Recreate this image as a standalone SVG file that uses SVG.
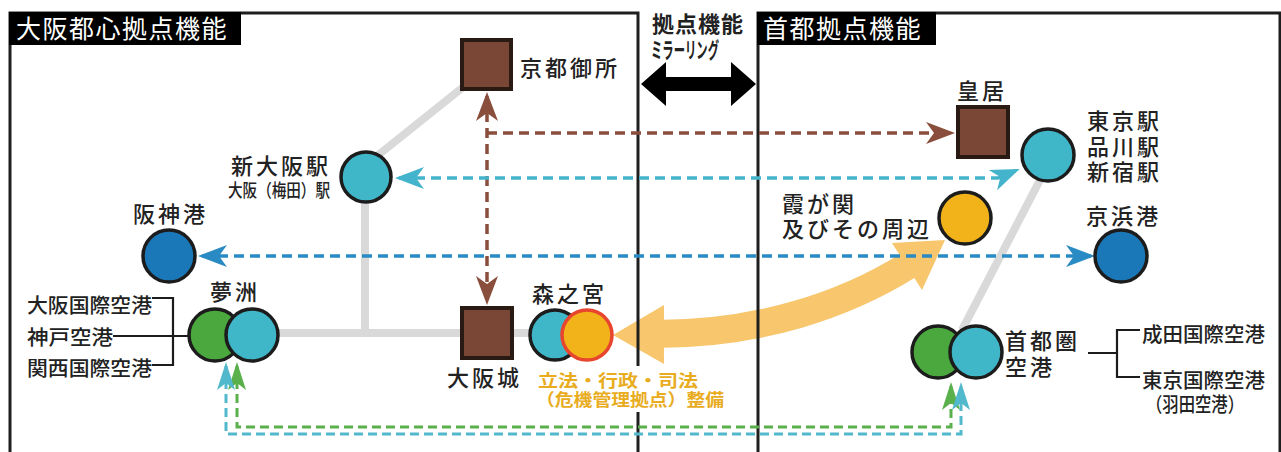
<svg xmlns="http://www.w3.org/2000/svg" width="1281" height="452" viewBox="0 0 1281 452">
<style>
text{font-family:"Noto Sans CJK JP","Noto Sans",sans-serif;fill:#222;}
.lbl{font-size:22px;font-weight:500;letter-spacing:3px;}
.sm{font-size:20px;font-weight:500;}
.ttl{font-size:25px;fill:#fff;letter-spacing:1.5px;}
.org{font-size:17px;font-weight:700;fill:#e8ac1e;}
.node{stroke:#1c1c1c;stroke-width:3.5;}
.sq{fill:#7a4636;stroke:#2a1a14;stroke-width:4;}
.cy{fill:#40b6c9;}
.gr{fill:#4aa83e;}
.bl{fill:#1a78b8;}
.ye{fill:#f2b21a;}
.gray{stroke:#d9d9d9;stroke-width:8;fill:none;}
.border{stroke:#1e1e1e;stroke-width:3;fill:none;}
.dash{fill:none;stroke-width:3.5;stroke-dasharray:10 6;}
.br{stroke:#8a4e3c;}
.cyd{stroke:#44b4cc;}
.bld{stroke:#2a8ac4;}
.gd{stroke:#5ab04a;stroke-width:3;stroke-dasharray:9 5;}
.cd{stroke:#52b8cc;stroke-width:3;stroke-dasharray:9 5;}
.brk{stroke:#1c1c1c;stroke-width:2.2;fill:none;}
</style>
<defs>
<marker id="mBr" markerUnits="userSpaceOnUse" viewBox="-30 -12 36 24" markerWidth="36" markerHeight="24" refX="0" refY="0" orient="auto-start-reverse"><path d="M4,0 L-25,-11 L-17,0 L-25,11Z" fill="#8a4e3c"/></marker>
<marker id="mCy" markerUnits="userSpaceOnUse" viewBox="-30 -12 36 24" markerWidth="36" markerHeight="24" refX="0" refY="0" orient="auto-start-reverse"><path d="M4,0 L-25,-11 L-17,0 L-25,11Z" fill="#44b4cc"/></marker>
<marker id="mBl" markerUnits="userSpaceOnUse" viewBox="-30 -12 36 24" markerWidth="36" markerHeight="24" refX="0" refY="0" orient="auto-start-reverse"><path d="M4,0 L-25,-11 L-17,0 L-25,11Z" fill="#2a8ac4"/></marker>
<marker id="mGs" markerUnits="userSpaceOnUse" viewBox="-30 -12 36 24" markerWidth="36" markerHeight="24" refX="0" refY="0" orient="auto-start-reverse"><path d="M4,0 L-24,-9 L-17,0 L-24,9Z" fill="#5ab04a"/></marker>
<marker id="mCs" markerUnits="userSpaceOnUse" viewBox="-30 -12 36 24" markerWidth="36" markerHeight="24" refX="0" refY="0" orient="auto-start-reverse"><path d="M4,0 L-24,-9 L-17,0 L-24,9Z" fill="#52b8cc"/></marker>
</defs>
<rect width="1281" height="452" fill="#fff"/>

<g id="network-lines">
<path class="gray" d="M462 88 L372 160"/>
<path class="gray" d="M365 195 V333"/>
<path class="gray" d="M270 333 H535"/>
<path class="gray" d="M1040 180 L962 330"/>
</g>

<g id="mirror-arrow-big">
<path d="M655 334 C760 334 845 305 909 265" fill="none" stroke="#f7c66d" stroke-width="28"/>
<polygon points="613,335 664,305 664,364" fill="#f7c66d"/>
<polygon points="945,240 922,290 892,243" fill="#f7c66d"/>
</g>

<g id="panels">
<path class="border" d="M10 452 V13 H638 V452"/>
<path class="border" d="M758 452 V13 H1280 V452"/>
<rect x="9" y="12" width="232" height="33" fill="#000"/>
<text class="ttl" x="16" y="38">大阪都心拠点機能</text>
<rect x="757" y="12" width="179" height="33" fill="#000"/>
<text class="ttl" x="763" y="38">首都拠点機能</text>
</g>

<g id="mirroring">
<text x="652" y="32" style="font-size:22px;font-weight:700;letter-spacing:1px;">拠点機能</text>
<text x="651" y="58" textLength="68" lengthAdjust="spacingAndGlyphs" style="font-size:22px;font-weight:700;">ミラーリング</text>
<polygon points="641,84 666,62 666,77 731,77 731,62 756,84 731,106 731,91 666,91 666,106" fill="#000"/>
</g>

<rect x="535" y="366" width="192" height="46" fill="#fff"/>

<g id="connectors">
<path class="dash br" d="M487 96 V301" marker-start="url(#mBr)" marker-end="url(#mBr)"/>
<path class="dash br" d="M487 133 H951" marker-end="url(#mBr)"/>
<path class="dash cyd" d="M399 178 H998 L1016 170.5" marker-start="url(#mCy)" marker-end="url(#mCy)"/>
<path class="dash bld" d="M202 256 H1091" marker-start="url(#mBl)" marker-end="url(#mBl)"/>
<path class="dash gd" d="M237 366 V427 H951 V386" marker-start="url(#mGs)" marker-end="url(#mGs)"/>
<path class="dash cd" d="M226 366 V434 H961 V386" marker-start="url(#mCs)" marker-end="url(#mCs)"/>
</g>

<g id="kyoto-gosho">
<rect class="sq" x="462" y="40" width="49" height="49"/>
<text class="lbl" x="520" y="76">京都御所</text>
</g>

<g id="shin-osaka">
<circle class="node cy" cx="366" cy="177" r="25"/>
<text class="lbl" x="331" y="174" text-anchor="end">新大阪駅</text>
<text x="228" y="197" textLength="102" lengthAdjust="spacingAndGlyphs" style="font-size:18px;font-weight:500;">大阪（梅田）駅</text>
</g>

<g id="hanshin-port">
<circle class="node bl" cx="169" cy="256" r="26"/>
<text class="lbl" x="133" y="222">阪神港</text>
</g>

<g id="yumeshima">
<circle class="node gr" cx="215" cy="335" r="26"/>
<circle class="node cy" cx="252" cy="335" r="26"/>
<text class="lbl" x="210" y="300">夢洲</text>
<path class="brk" d="M152 298 H173 V365 H152 M113 336 H189"/>
<text class="sm"><tspan x="27" y="313" textLength="125" lengthAdjust="spacingAndGlyphs">大阪国際空港</tspan><tspan x="27" y="345" textLength="86" lengthAdjust="spacingAndGlyphs">神戸空港</tspan><tspan x="27" y="376" textLength="125" lengthAdjust="spacingAndGlyphs">関西国際空港</tspan></text>
</g>

<g id="osaka-castle">
<rect class="sq" x="462" y="308" width="50" height="50"/>
<text class="lbl" x="447" y="386">大阪城</text>
</g>

<g id="morinomiya">
<circle class="node cy" cx="555" cy="335" r="25"/>
<circle cx="587" cy="335" r="25" fill="#f2b21a" stroke="#e8452e" stroke-width="3.5"/>
<text class="lbl" x="532" y="302">森之宮</text>
<text class="org"><tspan x="538" y="387" textLength="160" lengthAdjust="spacingAndGlyphs">立法・行政・司法</tspan><tspan x="536" y="406" textLength="188" lengthAdjust="spacingAndGlyphs">（危機管理拠点）整備</tspan></text>
</g>

<g id="kokyo">
<rect class="sq" x="958" y="107" width="50" height="50"/>
<text class="lbl" x="957" y="99">皇居</text>
</g>

<g id="tokyo-station">
<circle class="node cy" cx="1048" cy="155" r="26"/>
<text class="lbl"><tspan x="1087" y="129">東京駅</tspan><tspan x="1087" y="155">品川駅</tspan><tspan x="1087" y="180">新宿駅</tspan></text>
</g>

<g id="kasumigaseki">
<circle class="node ye" cx="965" cy="218" r="26"/>
<text class="lbl"><tspan x="782" y="212">霞が関</tspan><tspan x="782" y="237">及びその周辺</tspan></text>
</g>

<g id="keihin-port">
<circle class="node bl" cx="1121" cy="256" r="26"/>
<text class="lbl" x="1086" y="224">京浜港</text>
</g>

<g id="shutoken-airport">
<circle class="node gr" cx="938" cy="352" r="26"/>
<circle class="node cy" cx="976" cy="352" r="26"/>
<text class="lbl"><tspan x="1005" y="349">首都圏</tspan><tspan x="1005" y="375">空港</tspan></text>
<path class="brk" d="M1088 353 H1117 M1140 330 H1117 V377 H1140"/>
<text class="sm"><tspan x="1142" y="342" textLength="123" lengthAdjust="spacingAndGlyphs">成田国際空港</tspan><tspan x="1142" y="388" textLength="123" lengthAdjust="spacingAndGlyphs">東京国際空港</tspan><tspan x="1146" y="412" textLength="98" lengthAdjust="spacingAndGlyphs">（羽田空港）</tspan></text>
</g>
</svg>
